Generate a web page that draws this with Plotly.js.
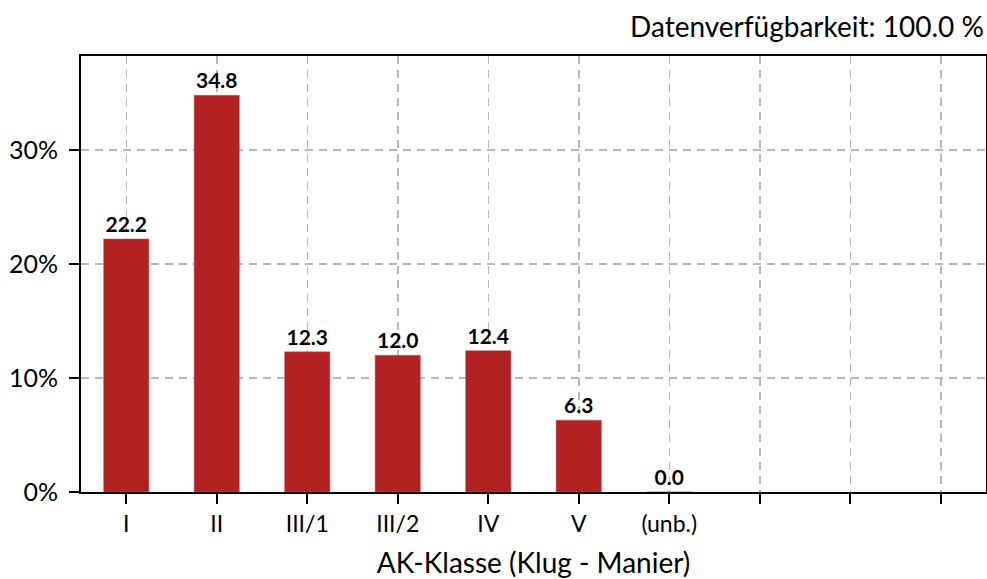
<!DOCTYPE html>
<html><head><meta charset="utf-8">
<script src="https://cdn.plot.ly/plotly-3.0.1.min.js"></script>
<style>html,body{margin:0;padding:0;background:#fff}#chart{width:987px;height:579px}</style>
</head><body><div id="chart"></div>
<script>
var categories = ["I","II","III/1","III/2","IV","V","(unb.)"," ","  ","   "];
var barCategories = ["I","II","III/1","III/2","IV","V","(unb.)"];
var values = [22.2, 34.8, 12.3, 12.0, 12.4, 6.3, 0.0];
var yTicks = [0, 10, 20, 30];
var availability = "Datenverfügbarkeit: 100.0 %";
var xTitle = "AK-Klasse (Klug - Manier)";

var FONT = "Lato, 'Open Sans', sans-serif";
var trace = {
  type: "bar",
  x: barCategories,
  y: values,
  width: 0.5,
  marker: {color: "#b22222", line: {color: "#c85a5a", width: 0.5}},
  text: values.map(function(v){return v.toFixed(1);}),
  texttemplate: "<b>%{text}</b>",
  textposition: "outside",
  cliponaxis: false,
  textfont: {family: FONT, size: 21, color: "#000"},
  hoverinfo: "skip"
};
var layout = {
  width: 987, height: 579,
  margin: {l: 81, r: 1, t: 56, b: 87},
  paper_bgcolor: "#fff", plot_bgcolor: "#fff",
  showlegend: false,
  font: {family: FONT, color: "#000"},
  xaxis: {
    type: "category",
    categoryorder: "array",
    categoryarray: categories,
    range: [-0.5, 9.5],
    showline: true, mirror: true, linecolor: "#000", linewidth: 2,
    ticks: "outside", ticklen: 10, tickwidth: 2, tickcolor: "#000",
    showgrid: true, gridcolor: "#b8b8b8", griddash: "8px,6px", gridwidth: 1.5,
    tickfont: {size: 23, family: FONT},
    title: {text: xTitle, font: {size: 28, family: FONT}, standoff: 18},
    zeroline: false
  },
  yaxis: {
    range: [0, 38.25],
    tickmode: "array",
    tickvals: yTicks,
    ticktext: yTicks.map(function(v){return v + "%";}),
    showline: true, mirror: true, linecolor: "#000", linewidth: 2,
    ticks: "outside", ticklen: 10, tickwidth: 2, tickcolor: "#000",
    ticklabelstandoff: 6,
    showgrid: true, gridcolor: "#b8b8b8", griddash: "8px,6px", gridwidth: 1.5,
    tickfont: {size: 25, family: FONT},
    zeroline: false
  },
  annotations: [{
    text: availability, xref: "paper", yref: "paper", x: 1, y: 1,
    xanchor: "right", yanchor: "bottom", yshift: 11, showarrow: false,
    font: {size: 28, family: FONT, color: "#000"}
  }]
};
Plotly.newPlot("chart", [trace], layout, {staticPlot: true});
</script></body></html>
